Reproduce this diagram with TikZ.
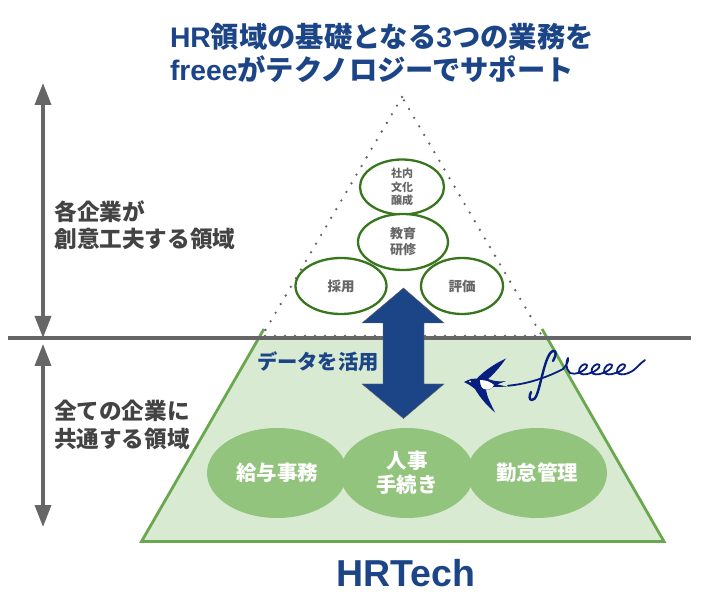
\documentclass[tikz,border=0pt]{standalone}
\usepackage{fontspec}
\setmainfont{Liberation Sans}
\newfontfamily\cjk{Noto Sans CJK JP}
\usetikzlibrary{arrows.meta,shapes.geometric}
\definecolor{titleblue}{HTML}{1C4587}
\definecolor{logoblue}{HTML}{061F7E}
\definecolor{textgray}{HTML}{434343}
\definecolor{axisgray}{HTML}{666666}
\definecolor{edgegreen}{HTML}{6AA84F}
\definecolor{palegreen}{HTML}{D9EAD3}
\definecolor{midgreen}{HTML}{93C47D}
\definecolor{darkgreen}{HTML}{38761D}
\newcommand{\lat}[1]{{\rmfamily #1}}
\tikzset{
  areatext/.style={anchor=west, align=left, text=textgray, font=\bfseries\cjk\fontsize{22.6}{27.5}\selectfont},
  titletext/.style={anchor=west, align=left, text=titleblue, font=\bfseries\cjk\fontsize{28.3}{33}\selectfont},
  dutytop/.style={ellipse, draw=darkgreen, line width=2.3pt, fill=white, inner sep=0pt, align=center, text=axisgray},
  dutybase/.style={ellipse, fill=midgreen, inner sep=0pt, align=center, text=white, minimum width=140pt, minimum height=90pt, font=\bfseries\cjk\fontsize{20.5}{24}\selectfont},
  axisarrow/.style={draw=axisgray, line width=3.5pt, {Triangle[length=22pt,width=16pt]}-{Triangle[length=22pt,width=16pt]}, shorten >=0pt, shorten <=0pt},
  scriptline/.style={draw=logoblue, line width=1.8pt, line cap=round, line join=round},
}
\begin{document}
\begin{tikzpicture}[x=1pt,y=-1pt]
\useasboundingbox (0,0) rectangle (704,601);
% lower part of the pyramid
\fill [palegreen] (258.7,338) -- (141.5,541.5) -- (664,541.5) -- (547.3,338) -- cycle;
\draw [edgegreen, line width=2.8pt, line join=miter] (264,329) -- (141.5,541.5) -- (664,541.5) -- (542,329);
\draw [axisgray, line width=3.2pt] (8,338) -- (691,338);
% upper part of the pyramid
\draw [axisgray, line width=2.6pt, line cap=round, dash pattern=on 0pt off 10pt] (402,97) -- (262,336) -- (542,336) -- cycle;
% left side
\coordinate (uptop) at (43,83);
\coordinate (upbottom) at (43,338);
\coordinate (lowtop) at (43,344);
\coordinate (lowbottom) at (43,527);
\draw [axisarrow] (uptop) -- (upbottom);
\draw [axisarrow] (lowtop) -- (lowbottom);
\node (title) [titletext] at (166.5,52.5) {\lat{HR}領域の基礎となる\lat{3}つの業務を\\\lat{freee}がテクノロジーでサポート};
\node (own) [areatext] at (51,225) {各企業が\\創意工夫する領域};
\node (common) [areatext] at (50.5,425) {全ての企業に\\共通する領域};
% small ellipses
\node (culture) [dutytop, minimum width=84pt, minimum height=55pt, font=\bfseries\cjk\fontsize{11}{13.5}\selectfont] at (402,187) {社内\\文化\\醸成};
\node (training) [dutytop, minimum width=90pt, minimum height=56pt, font=\bfseries\cjk\fontsize{13}{16}\selectfont] at (403,242) {教育\\研修};
\node (hiring) [dutytop, minimum width=91pt, minimum height=56pt, font=\bfseries\cjk\fontsize{13.5}{16}\selectfont] at (341,286) {採用};
\node (review) [dutytop, minimum width=82pt, minimum height=56pt, font=\bfseries\cjk\fontsize{13.5}{16}\selectfont] at (462,286) {評価};
% big double arrow
\draw [fill=titleblue, draw=axisgray, line width=0.4pt] (403.5,288) -- (444,323) -- (424,323) -- (424,384) -- (444,384) -- (403.5,418.5) -- (362,384) -- (383,384) -- (383,323) -- (362,323) -- cycle;
\node (usage) [anchor=west, text=titleblue, font=\bfseries\cjk\fontsize{20.3}{24}\selectfont] at (253.5,362) {データを活用};
% large ellipses
\node (payroll) [dutybase] at (277,473) {給与事務};
\node (attendance) [dutybase] at (537,473) {勤怠管理};
\node (personnel) [dutybase, minimum width=134pt] at (407,473) {人事\\手続き};
\node (hrtech) [text=titleblue, font=\bfseries\fontsize{37.5}{40}\selectfont] at (405.5,573) {HRTech};
% swallow
\fill [logoblue] (464,382) .. controls (470,379) and (473,378) .. (477,378.5)
  .. controls (484,371) and (494,364) .. (506,358.5)
  .. controls (500,367) and (494,374) .. (488,379)
  .. controls (494,381) and (498,382) .. (506,381)
  -- (497,384.5) -- (507,386.5) .. controls (500,387) and (496,387) .. (493,387)
  .. controls (491,389) and (489,390) .. (486,390)
  .. controls (487,397) and (491,404) .. (495,412.5)
  .. controls (486,405) and (479,396) .. (475,389)
  .. controls (470,385) and (468,384) .. (464,382) -- cycle;
\fill [white] (480,380) .. controls (486,380) and (491,382) .. (494,385) .. controls (492,389) and (488,390) .. (486,389.5) .. controls (482,389) and (480,386) .. (480,380) -- cycle;
\fill [white] (470,381.5) circle (1pt);
% handwriting
\draw [scriptline] (508,385.7) .. controls (528,384) and (548,377) .. (563,369) .. controls (566,366) and (569,361) .. (568,358) .. controls (566,361) and (565,368) .. (570,373) .. controls (573,374) and (576,374) .. (578,373);
\draw [scriptline, line width=2.4pt] (531,392) .. controls (529,396) and (529,400) .. (532,400) .. controls (536,400) and (538,392) .. (541,380) .. controls (544,368) and (548,352) .. (553,351) .. controls (557,350) and (556,356) .. (553,361);
\foreach \ex in {0,12.5,25,38} {
  \draw [scriptline] (\ex+578,373) .. controls (\ex+582,372) and (\ex+588,368) .. (\ex+587,365) .. controls (\ex+585,362) and (\ex+578,367) .. (\ex+579,372) .. controls (\ex+580,375) and (\ex+586,375) .. (\ex+590.5,373);
}
\draw [scriptline] (628.5,373) .. controls (635,371) and (640,363) .. (645,360);
\end{tikzpicture}
\end{document}
